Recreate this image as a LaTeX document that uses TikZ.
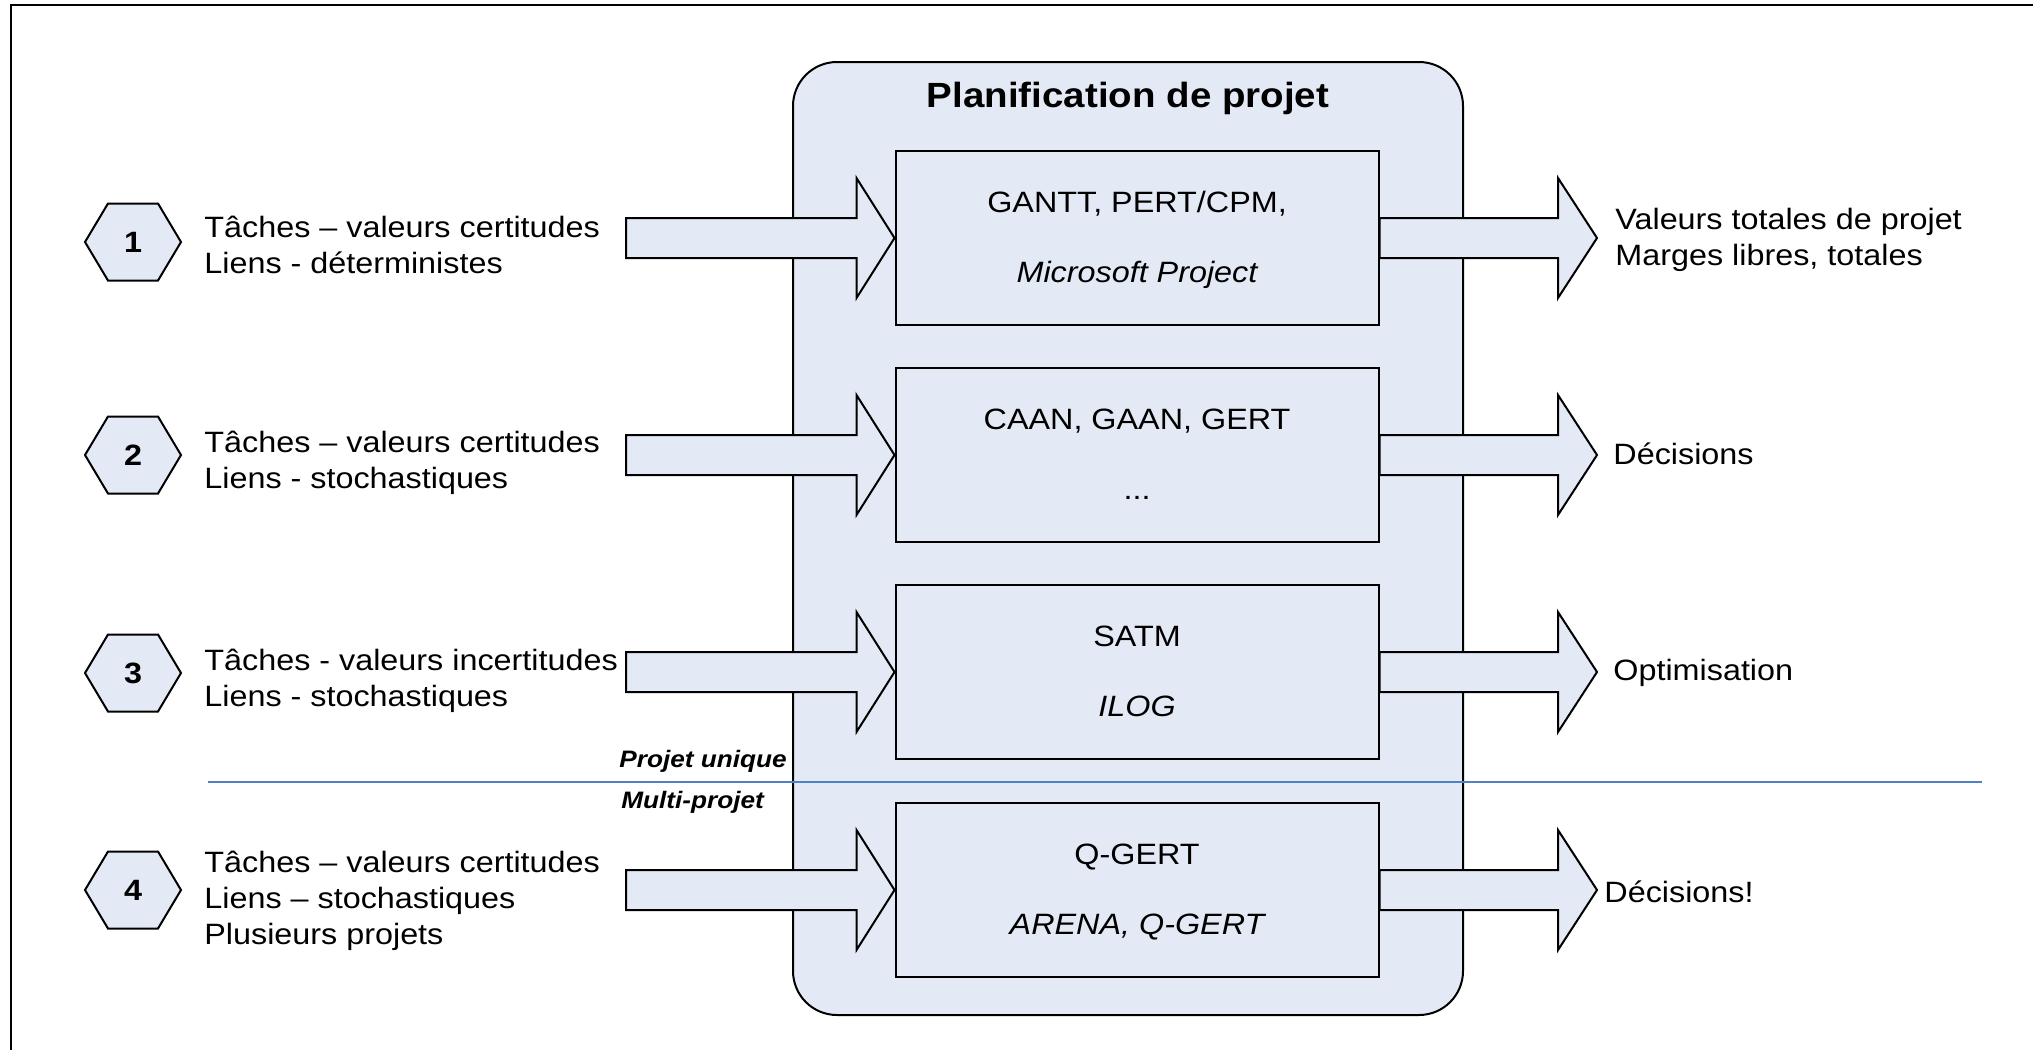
\documentclass[tikz,border=0pt]{standalone}
\usepackage{fontspec}
\setmainfont{Liberation Sans}[FakeStretch=1.1]
\usetikzlibrary{calc}
\definecolor{panel}{RGB}{228,234,245}
\definecolor{divblue}{RGB}{79,129,200}

\begin{document}
\begin{tikzpicture}[x=0.5pt,y=-0.5pt,
  body/.style={font=\fontsize{14.7}{18}\selectfont, inner sep=0pt, align=left},
  boxtxt/.style={font=\fontsize{14.7}{18}\selectfont, inner sep=0pt},
  titlest/.style={font=\fontsize{17.5}{21}\selectfont\bfseries, inner sep=0pt},
  tag/.style={font=\fontsize{11.9}{14}\selectfont\bfseries\itshape, inner sep=0pt},
  num/.style={font=\fontsize{14.7}{18}\selectfont\bfseries, inner sep=0pt},
  outline/.style={draw=black, line width=1pt, line join=miter},
  filled/.style={outline, fill=panel},
  procbox/.style={filled, rectangle, minimum width=241.5pt, minimum height=87pt, inner sep=0pt},
  bigbox/.style={filled, rectangle, rounded corners=22pt, minimum width=335pt, minimum height=476.5pt, inner sep=0pt}
]
\fill[white] (0,0) rectangle (2033,1050);
\useasboundingbox (0,0) rectangle (2033,1050);

% outer frame (left and top edges)
\draw[line width=1.25pt] (11,1050) -- (11,5) -- (2033,5);

% central panel
\node[bigbox] (plan) at (1128,538.5) {};
\node[titlest, anchor=base] (titre) at (1128,107) {Planification de projet};

% separator between single and multiple projects
\coordinate (dl) at (208,782);
\coordinate (dr) at (1982,782);
\draw[divblue, line width=0.8pt] (dl) -- (dr);
\node[tag, anchor=base west] (uni) at (619,767) {Projet unique};
\node[tag, anchor=base west] (multi) at (621,808) {Multi-projet};

% rows: method box, numbered hexagon, input and output arrows
\foreach \i/\c/\hy in {1/238/242, 2/455/455, 3/672/673, 4/890/890} {
  \node[procbox] (b\i) at (1137,\c) {};
  \coordinate (s\i) at (626,\c);
  \coordinate (t\i) at (1597,\c);
  % input arrow
  \draw[filled] ($(s\i)+(0,-20)$) -- ($(b\i.west)+(-38,-20)$) -- ($(b\i.west)+(-38,-60)$)
    -- (b\i.west) -- ($(b\i.west)+(-38,60)$) -- ($(b\i.west)+(-38,20)$)
    -- ($(s\i)+(0,20)$) -- cycle;
  % output arrow
  \draw[filled] ($(b\i.east)+(0,-20)$) -- ($(t\i)+(-39,-20)$) -- ($(t\i)+(-39,-60)$)
    -- (t\i) -- ($(t\i)+(-39,60)$) -- ($(t\i)+(-39,20)$)
    -- ($(b\i.east)+(0,20)$) -- cycle;
  % numbered hexagon
  \coordinate (hc\i) at (133,\hy);
  \draw[filled] ($(hc\i)+(-48,0)$) -- ($(hc\i)+(-25,-38.5)$) -- ($(hc\i)+(25,-38.5)$)
    -- ($(hc\i)+(48,0)$) -- ($(hc\i)+(25,38.5)$) -- ($(hc\i)+(-25,38.5)$) -- cycle;
  \node[num] (h\i) at (hc\i) {\i};
}

% method names
\node[boxtxt, anchor=base] (m1a) at ($(b1.center)+(0,-26)$) {GANTT, PERT/CPM,};
\node[boxtxt, anchor=base] (m1b) at ($(b1.center)+(0,44)$) {\itshape Microsoft Project};
\node[boxtxt, anchor=base] (m2a) at ($(b2.center)+(0,-26)$) {CAAN, GAAN, GERT};
\node[boxtxt, anchor=base] (m2b) at ($(b2.center)+(0,44)$) {...};
\node[boxtxt, anchor=base] (m3a) at ($(b3.center)+(0,-26)$) {SATM};
\node[boxtxt, anchor=base] (m3b) at ($(b3.center)+(0,44)$) {\itshape ILOG};
\node[boxtxt, anchor=base] (m4a) at ($(b4.center)+(0,-26)$) {Q-GERT};
\node[boxtxt, anchor=base] (m4b) at ($(b4.center)+(0,44)$) {\itshape ARENA, Q-GERT};

% input descriptions
\node[body, anchor=north west] (in1) at (204,215.5) {Tâches – valeurs certitudes\\Liens - déterministes};
\node[body, anchor=north west] (in2) at (204,430.5) {Tâches – valeurs certitudes\\Liens - stochastiques};
\node[body, anchor=north west] (in3) at (204,648.5) {Tâches - valeurs incertitudes\\Liens - stochastiques};
\node[body, anchor=north west] (in4) at (204,850.5) {Tâches – valeurs certitudes\\Liens – stochastiques\\Plusieurs projets};

% results
\node[body, anchor=north west] (out1) at (1615,207.5) {Valeurs totales de projet\\Marges libres, totales};
\node[body, anchor=base west] (out2) at (1613,464) {Décisions};
\node[body, anchor=base west] (out3) at (1613,680) {Optimisation};
\node[body, anchor=base west] (out4) at (1604,902) {Décisions!};
\end{tikzpicture}
\end{document}
